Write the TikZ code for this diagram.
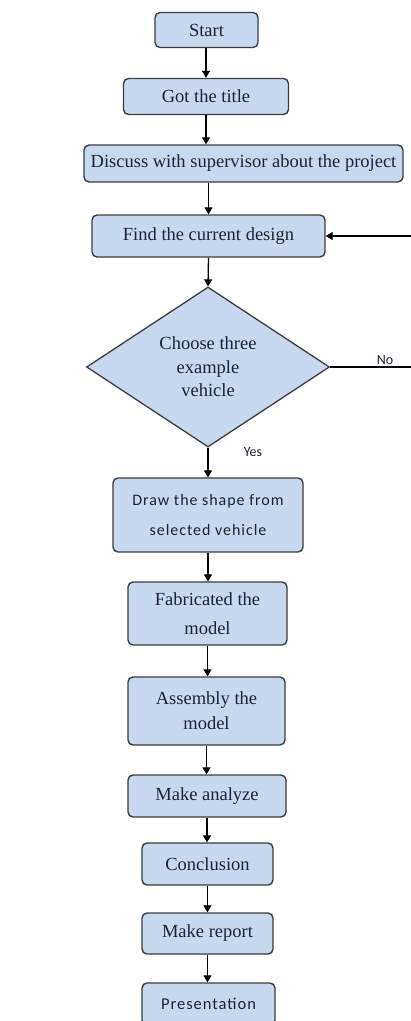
\documentclass[tikz,border=0pt]{standalone}
\usepackage{fontspec}
\setmainfont{Liberation Serif}
\newfontfamily\cali{Carlito}
\newfontfamily\caliwide[LetterSpace=6]{Carlito}
\usetikzlibrary{shapes.geometric,arrows.meta}
\definecolor{boxfill}{HTML}{C8D9EF}
\definecolor{boxline}{HTML}{3C3C3C}
\definecolor{txt}{HTML}{1E2333}
\begin{document}
\begin{tikzpicture}[x=1pt,y=-1pt,
  stepbox/.style={draw=boxline, fill=boxfill, line width=1.4pt, rounded corners=5pt,
    inner sep=0pt, align=center, text=txt},
  decbox/.style={draw=boxline, fill=boxfill, line width=1.3pt, diamond, inner sep=0pt,
    align=center, minimum width=243pt, minimum height=160pt, text=txt},
  arr/.style={line width=1.3pt, -{Triangle[length=7pt,width=8pt]}},
  ln/.style={line width=1.3pt},
  sertext/.style={font=\fontsize{18.5}{23}\selectfont},
  santext/.style={font=\caliwide\fontsize{16}{30}\selectfont},
  lbl/.style={font=\cali\fontsize{14}{16}\selectfont, inner sep=0pt, text=txt}
]
\useasboundingbox (0,0) rectangle (411,1021);
\clip (0,0) rectangle (411,1021);
\fill[white] (0,0) rectangle (411,1021);

\node[stepbox, sertext, minimum width=103pt, minimum height=35pt] (start) at (206.5,30) {Start};
\node[stepbox, sertext, minimum width=165pt, minimum height=36pt] (got) at (206,96.5) {Got the title};
\node[stepbox, sertext, minimum width=319pt, minimum height=37pt] (disc) at (243.5,163.5) {Discuss with supervisor about the project};
\node[stepbox, sertext, minimum width=233pt, minimum height=42pt] (find) at (208.5,236) {Find the current design};
\node[decbox, sertext, font=\fontsize{18.5}{23.5}\selectfont] (dec) at (208,367) {Choose three\\example\\vehicle};
\node[stepbox, santext, minimum width=190pt, minimum height=74pt] (draw) at (208,515) {Draw the shape from\\selected vehicle};
\node[stepbox, font=\fontsize{18.5}{29}\selectfont, minimum width=159pt, minimum height=63pt] (fab) at (207.5,613.5) {Fabricated the\\model};
\node[stepbox, font=\fontsize{18.5}{25}\selectfont, minimum width=157pt, minimum height=68pt] (asm) at (206.5,711) {Assembly the\\model};
\node[stepbox, sertext, minimum width=158pt, minimum height=42pt] (ana) at (207,796) {Make analyze};
\node[stepbox, sertext, minimum width=131pt, minimum height=42pt] (conc) at (207.5,864) {Conclusion};
\node[stepbox, sertext, minimum width=131pt, minimum height=41pt] (rep) at (207.5,933.5) {Make report};
\node[stepbox, santext, font=\caliwide\fontsize{16.5}{20}\selectfont, minimum width=133pt, minimum height=42pt] (pres) at (208.5,1004) {Presentation};

\coordinate (rin) at (411,236);
\coordinate (rout) at (411,367);

\draw[arr] (start.south -| got.center) -- (got.north);
\draw[arr] (got.south) -- (got.south |- disc.north);
\draw[arr] (find.north |- disc.south) -- (find.north);
\draw[arr] (find.south) -- (dec.north);
\draw[arr] (dec.south) -- (draw.north);
\draw[arr] (draw.south) -- (draw.south |- fab.north);
\draw[arr] (fab.south) -- (fab.south |- asm.north);
\draw[arr] (asm.south) -- (asm.south |- ana.north);
\draw[arr] (ana.south) -- (ana.south |- conc.north);
\draw[arr] (conc.south) -- (rep.north);
\draw[arr] (rep.south) -- (rep.south |- pres.north);
\draw[ln] (dec.east) -- (rout);
\draw[arr] (rin) -- (find.east);

\node[lbl] (no) at (385,360) {No};
\node[lbl] (yes) at (253,452) {Yes};
\end{tikzpicture}
\end{document}
